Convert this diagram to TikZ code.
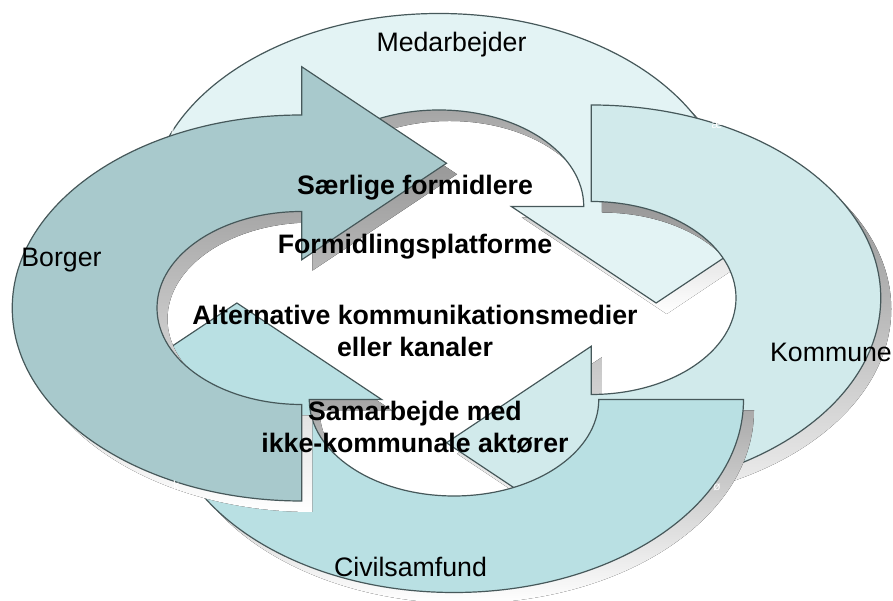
\documentclass[tikz,border=0pt]{standalone}
\usepackage{fontspec}
\setmainfont{Liberation Sans}
\usetikzlibrary{positioning}

\definecolor{medfill}{HTML}{E3F3F4}
\definecolor{komfill}{HTML}{D1EAEB}
\definecolor{civfill}{HTML}{B9E0E3}
\definecolor{borfill}{HTML}{A8C9CC}
\definecolor{rim}{HTML}{46585A}
\definecolor{shade}{HTML}{808080}

% one bent arrow (the left one), centre of the ring at the origin
\newcommand{\ringarrow}{(-96.5,-101.5) -- (-96.5,-198)
  arc[start angle=270,end angle=90,radius=193]
  -- (-96.5,236.25) -- (0,139.75) -- (-96.5,43.25) -- (-96.5,91.5)
  arc[start angle=90,end angle=270,radius=96.5] -- cycle}

\begin{document}
\begin{tikzpicture}[x=1pt, y=1pt,
    lbl/.style={font=\fontsize{26.7}{32}\selectfont, inner sep=0pt, anchor=base},
    core/.style={font=\fontsize{26.7}{32}\selectfont\bfseries, inner sep=0pt, anchor=base, align=center},
    tag/.style={font=\fontsize{12}{12}\selectfont\rmfamily, text=white, inner sep=0pt}]
    \useasboundingbox (0,0) rectangle (893,601);

%arrows
    \foreach \k/\col in {1/medfill,2/komfill,3/civfill,4/borfill} {
        \fill[shade, shift={(457,287)}, xscale=1.5, rotate=-90*\k] \ringarrow;
        \filldraw[fill=\col, draw=rim, line width=1.2pt, shift={(446.5,298)}, xscale=1.5, rotate=-90*\k] \ringarrow;
    }

%leftover letters
    \node[tag] (tj) at (173,473) {j};
    \node[tag] (tae) at (717,476) {æ};
    \node[tag] (tk) at (176,116) {k};
    \node[tag] (toe) at (717,114) {ø};

%ring labels
    \node[lbl] (med) at (451.5,549) {Medarbejder};
    \node[lbl] (bor) at (61.5,334) {Borger};
    \node[lbl] (kom) at (831,239) {Kommune};
    \node[lbl] (civ) at (410.5,24) {Civilsamfund};

%middle
    \node[core] (saer) at (415,406) {Særlige formidlere};
    \node[core] (platf) at (415,347) {Formidlingsplatforme};
    \node[core] (alt) at (415,244) {Alternative kommunikationsmedier\\eller kanaler};
    \node[core] (samb) at (415,148) {Samarbejde med\\ikke-kommunale aktører};

\end{tikzpicture}
\end{document}
